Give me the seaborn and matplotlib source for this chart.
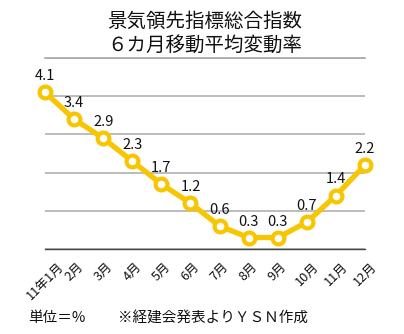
import matplotlib
matplotlib.use("Agg")
import matplotlib.pyplot as plt
import seaborn as sns
import pandas as pd

months = ["11年1月", "2月", "3月", "4月", "5月", "6月", "7月", "8月", "9月", "10月", "11月", "12月"]
values = [4.1, 3.4, 2.9, 2.3, 1.7, 1.2, 0.6, 0.3, 0.3, 0.7, 1.4, 2.2]
labels = ["4.1", "3.4", "2.9", "2.3", "1.7", "1.2", "0.6", "0.3", "0.3", "0.7", "1.4", "2.2"]
title = "景気領先指標総合指数\n６カ月移動平均変動率"
unit_note = "単位＝%"
source_note = "※経建会発表よりＹＳＮ作成"

sns.set_theme(style="white")
plt.rcParams['font.family'] = ['Noto Sans CJK JP', 'DejaVu Sans']

df = pd.DataFrame({"pos": list(range(len(months))), "value": values})

fig = plt.figure(figsize=(4.04, 3.34), dpi=100)
ax = fig.add_axes([45/404, 1 - 249/334, 320/404, (249 - 58)/334])

yellow = "#F7C600"
sns.lineplot(data=df, x="pos", y="value", ax=ax, color=yellow, linewidth=3.8,
             marker="o", markersize=8.5, markerfacecolor="white",
             markeredgecolor=yellow, markeredgewidth=3.0, zorder=3, clip_on=False)

for i, (v, t) in enumerate(zip(values, labels)):
    ax.annotate(t, (i, v), xytext=(0, 6.5), textcoords="offset points",
                ha="center", va="bottom", fontsize=10.5, color="#111111", zorder=4)

ax.set_xlim(0, len(months) - 1)
ax.set_ylim(0, 5)
ax.set_yticks([0, 1, 2, 3, 4, 5])
ax.set_yticklabels([])
ax.tick_params(axis="y", length=0)
ax.yaxis.grid(True, color="#b0b0b0", linewidth=1.2)
ax.xaxis.grid(False)
ax.set_xticks(list(range(len(months))))
ax.set_xticklabels(months, rotation=45, ha="center", fontsize=9.2, color="#111111")
ax.tick_params(axis="x", length=0, pad=8)
for s in ["left", "right"]:
    ax.spines[s].set_visible(False)
ax.spines["top"].set_visible(True)
ax.spines["top"].set_color("#a8a8a8")
ax.spines["top"].set_linewidth(1.2)
ax.spines["bottom"].set_color("#444444")
ax.spines["bottom"].set_linewidth(1.0)
ax.set_xlabel("")
ax.set_ylabel("")

fig.text(205/404, 1 - 33/334, title, ha="center", va="center", fontsize=14,
         linespacing=1.2, color="#111111")
fig.text(28/404, 1 - 318/334, unit_note, ha="left", va="center", fontsize=10.5, color="#111111")
fig.text(118/404, 1 - 318/334, source_note, ha="left", va="center", fontsize=10.5, color="#111111")

fig.savefig("out.png", dpi=100)
